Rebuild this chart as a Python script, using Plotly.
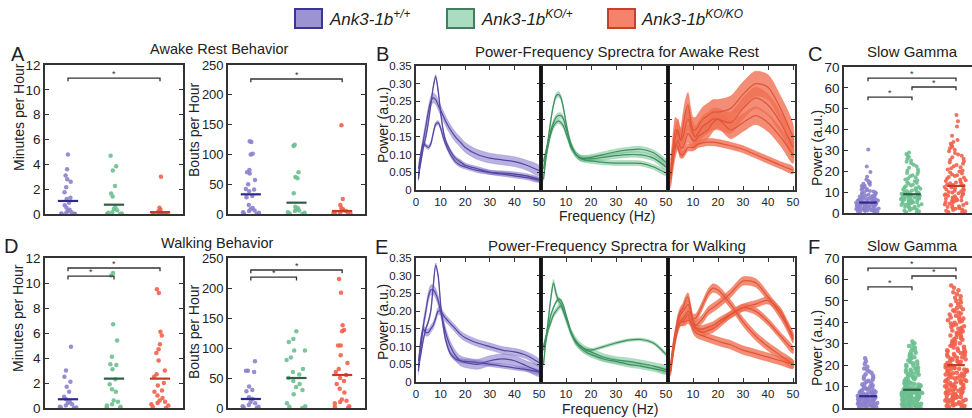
import plotly.graph_objects as go

W, H = 972, 418
FONT = "Liberation Sans, Arial, sans-serif"
TXT = "#222222"
AX = "#333333"

# ---------------- data ----------------
GENO_BASE = ["Ank3-1b", "Ank3-1b", "Ank3-1b"]
GENO_SUP = ["+/+", "KO/+", "KO/KO"]
GROUP_X = [1, 2, 3]

# A: awake rest behaviour
A_MIN = [
    [4.8, 3.6, 3.1, 2.8, 2.6, 2.15, 1.75, 1.3, 1.2, 0.9, 0.7, 0.5, 0.35, 0.25, 0.15, 0.1, 0.05, 0.02, 0.0, 0.0],
    [4.7, 3.85, 3.5, 2.25, 1.65, 1.4, 0.55, 0.4, 0.3, 0.15, 0.1, 0.05, 0.0, 0.0],
    [3.0, 0.5, 0.35, 0.25, 0.15, 0.1, 0.08, 0.05, 0.03, 0.02, 0.0, 0.0, 0.0],
]
A_MIN_LINE = [1.05, 0.75, 0.15]
A_BOUTS = [
    [122, 121, 101, 100, 74, 70, 68, 57, 50, 42, 41, 38, 30, 28, 15, 10, 8, 6, 5, 3, 2, 1, 0],
    [116, 114, 70, 62, 60, 35, 12, 10, 8, 6, 5, 3, 2, 1, 0],
    [149, 25, 15, 10, 8, 6, 5, 3, 2, 1, 0.5, 0],
]
A_BOUTS_LINE = [33, 19, 5]

# D: walking behaviour
D_MIN = [
    [4.9, 3.0, 2.5, 2.1, 1.7, 1.3, 0.9, 0.7, 0.5, 0.4, 0.3, 0.2, 0.1, 0.05, 0.0, 0.0],
    [10.8, 10.6, 6.7, 5.4, 4.1, 3.5, 3.45, 3.1, 2.3, 1.9, 1.5, 1.3, 0.6, 0.5, 0.3, 0.2, 0.1, 0.05, 0.0],
    [9.5, 9.2, 6.1, 5.8, 5.1, 4.7, 4.4, 3.8, 3.0, 2.7, 2.5, 2.0, 1.8, 1.4, 1.3, 1.0, 0.8, 0.6, 0.5, 0.4, 0.3, 0.2, 0.1, 0.0],
]
D_MIN_LINE = [0.7, 2.35, 2.35]
D_BOUTS = [
    [78, 62, 62, 60, 36, 30, 28, 18, 15, 10, 8, 5, 3, 2, 1, 0],
    [128, 115, 110, 96, 96, 84, 80, 65, 60, 56, 50, 45, 40, 35, 30, 23, 8, 3, 2, 0],
    [215, 192, 138, 130, 128, 104, 104, 88, 75, 65, 60, 55, 50, 45, 40, 32, 26, 14, 12, 10, 8, 3, 2, 0],
]
D_BOUTS_LINE = [15, 50, 55]

# C: slow gamma power, awake rest
C_POWER = [
    [30.5, 22.3, 19.6, 17.4, 16.1, 15.3, 14.8, 14.4, 14.0, 13.6, 13.1, 12.9, 12.5, 12.2, 11.8, 11.5, 11.2, 10.9,
     10.6, 10.3, 10.1, 9.8, 9.6, 9.3, 9.1, 8.9, 8.7, 8.4, 8.2, 8.0, 7.9, 7.7, 7.5, 7.3, 7.2, 7.0, 6.9, 6.7, 6.6,
     6.4, 6.3, 6.1, 6.0, 5.9, 5.8, 5.6, 5.5, 5.4, 5.3, 5.2, 5.1, 5.0, 4.9, 4.8, 4.7, 4.6, 4.5, 4.4, 4.3, 4.2,
     4.1, 4.0, 3.9, 3.8, 3.7, 3.6, 3.5, 3.4, 3.3, 3.2, 3.1, 3.0, 2.9, 2.8, 2.7, 2.6, 2.5, 2.4, 2.3, 2.2, 2.1,
     2.0, 1.9, 1.8, 1.7, 1.6, 1.5, 1.4, 1.3, 1.2, 1.1, 1.0, 0.9, 0.8, 0.7, 0.6],
    [29.0, 28.3, 27.5, 26.8, 25.9, 25.2, 24.6, 23.8, 23.1, 22.4, 21.7, 21.0, 20.4, 19.8, 19.2, 18.7, 18.1, 17.6,
     17.1, 16.6, 16.1, 15.7, 15.2, 14.8, 14.4, 14.0, 13.6, 13.2, 12.9, 12.5, 12.2, 11.9, 11.6, 11.3, 11.0, 10.8,
     10.5, 10.3, 10.0, 9.8, 9.6, 9.4, 9.2, 8.8, 8.6, 8.4, 8.2, 8.0, 7.8, 7.6, 7.4, 7.2, 7.0, 6.8, 6.6, 6.4, 6.2,
     6.0, 5.8, 5.6, 5.4, 5.2, 5.0, 4.8, 4.6, 4.4, 4.2, 4.0, 3.8, 3.5, 3.2, 2.9, 2.6, 2.3, 2.0, 1.7, 1.4, 1.1,
     0.8, 0.5, 0.3, 3.0, 4.5, 6.5, 7.5, 8.5],
    [47.0, 44.0, 41.5, 37.0, 35.0, 34.0, 33.2, 32.5, 31.8, 31.0, 30.3, 29.6, 28.8, 28.1, 27.4, 26.7, 26.0, 25.4,
     24.8, 24.2, 23.6, 23.0, 22.4, 21.9, 21.4, 20.9, 20.4, 19.9, 19.4, 18.9, 18.5, 18.1, 17.7, 17.3, 16.9, 16.5,
     16.1, 15.7, 15.3, 15.0, 14.6, 14.3, 14.0, 13.7, 13.4, 13.1, 12.8, 12.5, 12.2, 11.9, 11.6, 11.3, 11.0, 10.7,
     10.4, 10.1, 9.8, 9.5, 9.2, 8.9, 8.6, 8.3, 8.0, 7.7, 7.4, 7.1, 6.8, 6.5, 6.2, 5.9, 5.6, 5.3, 5.0, 4.7, 4.4,
     4.1, 3.8, 3.5, 3.2, 2.9, 2.6, 2.3, 2.0, 1.7, 1.4, 1.1, 0.8, 0.5, 0.3, 9.0, 6.0],
]
C_LINE = [5.0, 9.0, 13.0]

# F: slow gamma power, walking
F_POWER = [
    [23.2, 21.8, 20.5, 19.3, 18.4, 17.6, 17.0, 16.4, 15.8, 15.2, 14.7, 14.2, 13.7, 13.2, 12.7, 12.2, 11.8, 11.4,
     11.0, 10.6, 10.2, 9.9, 9.6, 9.3, 9.0, 8.7, 8.4, 8.1, 7.9, 7.7, 7.5, 7.3, 7.1, 6.9, 6.7, 6.5, 6.35, 6.2, 6.05,
     5.9, 5.75, 5.6, 5.45, 5.3, 5.15, 5.0, 4.85, 4.7, 4.55, 4.4, 4.25, 4.1, 3.95, 3.8, 3.65, 3.5, 3.35, 3.2,
     3.05, 2.9, 2.75, 2.6, 2.45, 2.3, 2.15, 2.0, 1.85, 1.7, 1.55, 1.4, 1.25, 1.1, 0.95, 0.8, 0.65, 0.5, 0.35,
     0.2, 4.0, 3.0, 2.5, 4.8, 5.2, 1.0],
    [31.0, 30.2, 29.5, 28.9, 28.2, 27.6, 27.0, 26.4, 25.8, 25.2, 24.7, 24.2, 23.7, 23.2, 22.7, 22.2, 21.7, 21.3,
     20.9, 20.5, 20.1, 19.7, 19.3, 18.9, 18.5, 18.2, 17.9, 17.6, 17.3, 17.0, 16.7, 16.4, 16.1, 15.8, 15.5, 15.2,
     14.9, 14.6, 14.3, 14.0, 13.7, 13.4, 13.1, 12.8, 12.5, 12.2, 12.0, 11.8, 11.6, 11.4, 11.2, 11.0, 10.8, 10.6,
     10.4, 10.2, 10.0, 9.8, 9.6, 9.4, 9.2, 9.0, 8.8, 8.6, 8.4, 8.25, 8.1, 7.95, 7.8, 7.65, 7.5, 7.35, 7.2, 7.05,
     6.9, 6.75, 6.6, 6.45, 6.3, 6.15, 6.0, 5.85, 5.7, 5.55, 5.4, 5.25, 5.1, 4.95, 4.8, 4.65, 4.5, 4.35, 4.2,
     4.05, 3.9, 3.75, 3.6, 3.45, 3.3, 3.15, 3.0, 2.85, 2.7, 2.55, 2.4, 2.25, 2.1, 1.95, 1.8, 1.65, 1.5, 1.35,
     1.2, 1.05, 0.9, 0.75, 0.6, 0.45, 0.3, 0.15, 2.0, 3.2, 4.4, 5.6, 6.8, 7.6, 1.0, 0.5],
    [57.2, 56.1, 55.0, 54.0, 53.1, 52.2, 51.4, 50.6, 49.9, 49.2, 48.5, 47.9, 47.3, 46.7, 46.1, 45.6, 45.1, 44.6,
     44.1, 43.6, 43.1, 42.6, 42.2, 41.8, 41.4, 41.0, 40.6, 40.2, 39.8, 39.4, 39.0, 38.6, 38.2, 37.8, 37.4, 37.0,
     36.6, 36.2, 35.8, 35.4, 35.0, 34.6, 34.2, 33.8, 33.4, 33.0, 32.6, 32.2, 31.8, 31.4, 31.0, 30.6, 30.2, 29.8,
     29.4, 29.0, 28.6, 28.2, 27.8, 27.4, 27.0, 26.7, 26.4, 26.1, 25.8, 25.5, 25.2, 24.9, 24.6, 24.3, 24.0, 23.7,
     23.4, 23.1, 22.8, 22.5, 22.2, 21.9, 21.6, 21.3, 21.0, 20.7, 20.4, 20.1, 19.8, 19.5, 19.2, 18.9, 18.6, 18.3,
     18.0, 17.7, 17.4, 17.1, 16.8, 16.5, 16.2, 15.9, 15.6, 15.3, 15.0, 14.7, 14.4, 14.1, 13.8, 13.5, 13.2, 12.9,
     12.6, 12.3, 12.0, 11.7, 11.4, 11.1, 10.8, 10.5, 10.2, 9.9, 9.6, 9.3, 9.0, 8.7, 8.4, 8.1, 7.8, 7.5, 7.2, 6.9,
     6.6, 6.3, 6.0, 5.7, 5.4, 5.1, 4.8, 4.5, 4.2, 3.9, 3.6, 3.3, 3.0, 2.7, 2.4, 2.1, 1.8, 1.5, 1.2, 0.9, 0.6,
     0.3, 19.0, 17.0, 15.0, 13.0, 11.0, 9.5, 8.0, 6.5, 5.0, 3.5, 2.0, 1.0, 16.0, 12.5, 10.0, 7.0, 4.0, 18.0],
]
F_LINE = [5.5, 8.5, 20.0]

# significance brackets: (group a, group b, height)
SIG_A_MIN = [(1, 3, 10.95)]
SIG_A_BOUTS = [(1, 3, 226.5)]
SIG_C = [(1, 2, 55.6), (2, 3, 60.4), (1, 3, 64.7)]
SIG_D_MIN = [(1, 2, 10.55), (1, 3, 11.2)]
SIG_D_BOUTS = [(1, 2, 218), (1, 3, 230)]
SIG_F = [(1, 2, 56.5), (2, 3, 61.6), (1, 3, 65.3)]

# power spectra (frequency grid in Hz)
FREQ = [1, 2, 3, 4, 5, 6, 7, 8, 9, 10, 11, 12, 14, 16, 18, 20, 25, 30, 35, 40, 45, 50]

REST_WT = [
    [0.06, 0.10, 0.14, 0.18, 0.22, 0.25, 0.26, 0.255, 0.24, 0.225, 0.21, 0.195, 0.17, 0.15, 0.135, 0.12, 0.10, 0.09, 0.085, 0.08, 0.07, 0.055],
    [0.04, 0.08, 0.12, 0.15, 0.19, 0.24, 0.29, 0.32, 0.28, 0.22, 0.17, 0.14, 0.11, 0.09, 0.08, 0.07, 0.06, 0.05, 0.045, 0.04, 0.035, 0.028],
    [0.03, 0.10, 0.13, 0.125, 0.12, 0.13, 0.16, 0.185, 0.19, 0.175, 0.15, 0.13, 0.10, 0.08, 0.07, 0.065, 0.055, 0.05, 0.048, 0.045, 0.04, 0.03],
]
REST_WT_SEM = [0.014, 0.006, 0.006]
REST_HET = [
    [0.06, 0.10, 0.15, 0.20, 0.24, 0.265, 0.27, 0.26, 0.23, 0.19, 0.155, 0.13, 0.10, 0.09, 0.09, 0.092, 0.10, 0.108, 0.113, 0.115, 0.105, 0.078],
    [0.08, 0.11, 0.14, 0.17, 0.19, 0.205, 0.21, 0.21, 0.20, 0.175, 0.15, 0.125, 0.10, 0.09, 0.088, 0.088, 0.092, 0.097, 0.10, 0.099, 0.09, 0.065],
    [0.03, 0.09, 0.13, 0.16, 0.18, 0.19, 0.195, 0.19, 0.18, 0.16, 0.14, 0.12, 0.10, 0.088, 0.084, 0.082, 0.078, 0.076, 0.076, 0.075, 0.065, 0.048],
]
REST_HET_SEM = [0.008, 0.008, 0.007]
REST_KO = [
    [0.05, 0.12, 0.17, 0.16, 0.14, 0.18, 0.22, 0.24, 0.20, 0.17, 0.17, 0.18, 0.20, 0.21, 0.22, 0.22, 0.23, 0.27, 0.30, 0.29, 0.23, 0.15],
    [0.04, 0.10, 0.15, 0.17, 0.14, 0.15, 0.18, 0.20, 0.18, 0.16, 0.15, 0.16, 0.18, 0.19, 0.20, 0.20, 0.19, 0.23, 0.26, 0.24, 0.19, 0.12],
    [0.03, 0.08, 0.12, 0.14, 0.12, 0.12, 0.14, 0.16, 0.15, 0.14, 0.14, 0.15, 0.16, 0.17, 0.19, 0.20, 0.17, 0.19, 0.21, 0.19, 0.15, 0.10],
    [0.04, 0.09, 0.13, 0.12, 0.10, 0.10, 0.11, 0.12, 0.12, 0.12, 0.125, 0.13, 0.133, 0.135, 0.135, 0.133, 0.125, 0.115, 0.10, 0.085, 0.07, 0.056],
]
REST_KO_SEM = [0.035, 0.03, 0.025, 0.01]

WALK_WT = [
    [0.04, 0.08, 0.12, 0.15, 0.17, 0.20, 0.27, 0.33, 0.30, 0.22, 0.16, 0.12, 0.08, 0.065, 0.06, 0.058, 0.055, 0.05, 0.045, 0.04, 0.035, 0.028],
    [0.06, 0.10, 0.16, 0.20, 0.24, 0.26, 0.26, 0.25, 0.23, 0.20, 0.17, 0.14, 0.10, 0.075, 0.06, 0.055, 0.05, 0.06, 0.065, 0.06, 0.045, 0.03],
    [0.03, 0.12, 0.15, 0.14, 0.14, 0.15, 0.16, 0.18, 0.20, 0.20, 0.19, 0.18, 0.165, 0.15, 0.135, 0.125, 0.11, 0.10, 0.09, 0.085, 0.075, 0.055],
]
WALK_WT_SEM = [0.006, 0.014, 0.01]
WALK_HET = [
    [0.05, 0.12, 0.18, 0.24, 0.28, 0.25, 0.23, 0.22, 0.20, 0.18, 0.16, 0.14, 0.115, 0.10, 0.09, 0.085, 0.07, 0.062, 0.058, 0.052, 0.045, 0.035],
    [0.10, 0.13, 0.16, 0.19, 0.21, 0.225, 0.235, 0.23, 0.215, 0.19, 0.165, 0.14, 0.115, 0.10, 0.092, 0.09, 0.10, 0.11, 0.118, 0.12, 0.11, 0.078],
    [0.09, 0.12, 0.15, 0.17, 0.19, 0.20, 0.21, 0.215, 0.20, 0.18, 0.16, 0.14, 0.11, 0.095, 0.085, 0.078, 0.065, 0.058, 0.05, 0.045, 0.038, 0.03],
]
WALK_HET_SEM = [0.01, 0.004, 0.008]
WALK_KO = [
    [0.03, 0.08, 0.13, 0.17, 0.19, 0.20, 0.21, 0.22, 0.20, 0.17, 0.16, 0.165, 0.18, 0.20, 0.21, 0.22, 0.25, 0.285, 0.28, 0.24, 0.19, 0.13],
    [0.03, 0.09, 0.14, 0.18, 0.20, 0.21, 0.23, 0.24, 0.21, 0.18, 0.18, 0.19, 0.22, 0.25, 0.265, 0.26, 0.22, 0.17, 0.13, 0.10, 0.075, 0.05],
    [0.03, 0.08, 0.12, 0.15, 0.17, 0.18, 0.19, 0.20, 0.19, 0.17, 0.155, 0.15, 0.15, 0.155, 0.16, 0.17, 0.19, 0.21, 0.22, 0.23, 0.20, 0.12],
    [0.04, 0.09, 0.13, 0.16, 0.17, 0.17, 0.17, 0.175, 0.17, 0.16, 0.15, 0.145, 0.14, 0.145, 0.15, 0.16, 0.19, 0.21, 0.20, 0.17, 0.13, 0.09],
    [0.04, 0.10, 0.14, 0.16, 0.17, 0.17, 0.18, 0.19, 0.17, 0.15, 0.14, 0.135, 0.13, 0.125, 0.12, 0.115, 0.105, 0.09, 0.08, 0.07, 0.06, 0.05],
]
WALK_KO_SEM = [0.012, 0.012, 0.01, 0.01, 0.012]

SPEC_YTICKS = [0, 0.05, 0.10, 0.15, 0.20, 0.25, 0.30, 0.35]
SPEC_YTEXT = ["0", "0.05", "0.10", "0.15", "0.20", "0.25", "0.30", "0.35"]
SPEC_XTICKS_FIRST = [0, 10, 20, 30, 40, 50]
SPEC_XTICKS_OTHER = [10, 20, 30, 40, 50]

# ---------------- styles ----------------
PT_COL = ["#8c82cc", "#6cc08f", "#f2604a"]
MED_COL = ["#2b2a8a", "#2e5e46", "#c23b22"]
SPEC_LINE = ["#54479f", "#3f8f60", "#e0553a"]
SPEC_BAND = ["rgba(128,113,200,0.55)", "rgba(105,188,138,0.5)", "rgba(240,112,82,0.8)"]
LEG_FILL = ["#9c94d2", "#a9dcc0", "#f4836b"]
LEG_EDGE = ["#3c3593", "#3f7f5b", "#c8402b"]

fig = go.Figure()
layout_axes = {}


def refs(i):
    return ("x" if i == 1 else f"x{i}", "y" if i == 1 else f"y{i}")


def set_axes(i, box, xcfg, ycfg, tick_size):
    x0, x1, yt, yb = box
    xn, yn = refs(i)
    base = dict(showline=True, linecolor=AX, linewidth=1.6, showgrid=False, zeroline=False,
                ticks="inside", ticklen=4, tickcolor=AX, tickwidth=1.2,
                tickfont=dict(size=tick_size, color=TXT, family=FONT), fixedrange=True)
    layout_axes["xaxis" if i == 1 else f"xaxis{i}"] = {**base, "domain": [x0 / W, min(x1 / W, 1)], "anchor": yn, **xcfg}
    layout_axes["yaxis" if i == 1 else f"yaxis{i}"] = {**base, "domain": [1 - yb / H, 1 - yt / H], "anchor": xn, **ycfg}


def strip_panel(i, box, groups, lines, yrange, ytick, sig, width, msize, xrange, mirror_y="ticks", hw=0.22, tsize=13.5):
    xn, yn = refs(i)
    set_axes(i, box,
             dict(range=xrange, showticklabels=False, ticks="", mirror=True),
             dict(range=yrange, tickmode="linear", tick0=0, dtick=ytick, mirror=mirror_y),
             tsize)
    for g, (vals, med) in enumerate(zip(groups, lines)):
        gx = GROUP_X[g]
        fig.add_trace(go.Box(y=vals, x0=gx, width=width, boxpoints="all", jitter=1, pointpos=0,
                             fillcolor="rgba(0,0,0,0)", line=dict(width=0, color="rgba(0,0,0,0)"),
                             whiskerwidth=0,
                             marker=dict(color=PT_COL[g], size=msize, opacity=0.9, line=dict(width=0)),
                             xaxis=xn, yaxis=yn, hoverinfo="skip", showlegend=False))
        fig.add_trace(go.Scatter(x=[gx - hw, gx + hw], y=[med, med], mode="lines",
                                 line=dict(color=MED_COL[g], width=2.2),
                                 xaxis=xn, yaxis=yn, hoverinfo="skip", showlegend=False))
    d = 0.022 * (yrange[1] - yrange[0])
    for a, b, hgt in sig:
        fig.add_trace(go.Scatter(x=[a, a, b, b], y=[hgt - d, hgt, hgt, hgt - d], mode="lines",
                                 line=dict(color="#333333", width=1.3),
                                 xaxis=xn, yaxis=yn, hoverinfo="skip", showlegend=False))
        fig.add_annotation(x=(a + b) / 2, y=hgt, xref=xn, yref=yn, text="*", showarrow=False,
                           yanchor="bottom", yshift=-3, font=dict(size=9, color="#333333", family=FONT))


def spectra_panel(i, box, curves, sems, g, first):
    xn, yn = refs(i)
    xt = SPEC_XTICKS_FIRST if first else SPEC_XTICKS_OTHER
    set_axes(i, box,
             dict(range=[0, 50.8], tickvals=xt, ticktext=[str(v) for v in xt], mirror="ticks", linewidth=2),
             dict(range=[0, 0.35], tickvals=SPEC_YTICKS, ticktext=SPEC_YTEXT, showticklabels=first,
                  mirror="ticks", linewidth=2),
             11.5)
    for v, s in zip(curves, sems):
        up = [a + s for a in v]
        lo = [a - s for a in v]
        fig.add_trace(go.Scatter(x=FREQ + FREQ[::-1], y=up + lo[::-1], fill="toself",
                                 fillcolor=SPEC_BAND[g], mode="lines",
                                 line=dict(width=0.6, color=SPEC_BAND[g], shape="spline", smoothing=0.8),
                                 xaxis=xn, yaxis=yn, hoverinfo="skip", showlegend=False))
    for v in curves:
        fig.add_trace(go.Scatter(x=FREQ, y=v, mode="lines",
                                 line=dict(width=1.2, color=SPEC_LINE[g], shape="spline", smoothing=0.8),
                                 xaxis=xn, yaxis=yn, hoverinfo="skip", showlegend=False))


# ---------------- panels ----------------
strip_panel(1, (45, 183, 65, 214), A_MIN, A_MIN_LINE, [0, 12], 2, SIG_A_MIN, 0.5, 4.5, [0.5, 3.5])
strip_panel(2, (228, 365, 65, 214), A_BOUTS, A_BOUTS_LINE, [0, 250], 50, SIG_A_BOUTS, 0.5, 4.5, [0.5, 3.5], tsize=13)
spectra_panel(3, (416, 541, 66, 190), REST_WT, REST_WT_SEM, 0, True)
spectra_panel(4, (541, 668, 66, 190), REST_HET, REST_HET_SEM, 1, False)
spectra_panel(5, (668, 795, 66, 190), REST_KO, REST_KO_SEM, 2, False)
strip_panel(6, (844, 972, 67, 213), C_POWER, C_LINE, [0, 70], 10, SIG_C, 0.55, 4, [0.455, 3.364], mirror_y=False, hw=0.2)
strip_panel(7, (45, 183, 258, 408), D_MIN, D_MIN_LINE, [0, 12], 2, SIG_D_MIN, 0.5, 4.5, [0.5, 3.5])
strip_panel(8, (228, 365, 258, 408), D_BOUTS, D_BOUTS_LINE, [0, 250], 50, SIG_D_BOUTS, 0.5, 4.5, [0.5, 3.5], tsize=13)
spectra_panel(9, (416, 541, 258, 382), WALK_WT, WALK_WT_SEM, 0, True)
spectra_panel(10, (541, 668, 258, 382), WALK_HET, WALK_HET_SEM, 1, False)
spectra_panel(11, (668, 795, 258, 382), WALK_KO, WALK_KO_SEM, 2, False)
strip_panel(12, (844, 972, 258, 408), F_POWER, F_LINE, [0, 70], 10, SIG_F, 0.5, 4.5, [0.455, 3.364], mirror_y=False, hw=0.2)

# ---------------- text ----------------
def ann(x, y, text, size, angle=0, xanchor="center"):
    fig.add_annotation(x=x / W, y=1 - y / H, xref="paper", yref="paper", text=text, showarrow=False,
                       textangle=angle, xanchor=xanchor, yanchor="middle",
                       font=dict(size=size, color=TXT, family=FONT))

ann(219, 49, "Awake Rest Behavior", 14.5)
ann(617, 51, "Power-Frequency Sprectra for Awake Rest", 15)
ann(912, 51, "Slow Gamma", 15)
ann(217, 243, "Walking Behavior", 14.5)
ann(617, 245, "Power-Frequency Sprectra for Walking", 15)
ann(912, 245, "Slow Gamma", 15)
for lx, ly, letter in [(18, 54, "A"), (382, 54, "B"), (815, 54, "C"), (11, 246, "D"), (381, 247, "E"), (814, 247, "F")]:
    ann(lx, ly, letter, 20)
ann(19, 117, "Minutes per Hour", 14, -90)
ann(194, 130, "Bouts per Hour", 14, -90)
ann(383, 125, "Power (a.u.)", 14, -90)
ann(817, 148, "Power (a.u.)", 14, -90)
ann(18, 318, "Minutes per Hour", 14, -90)
ann(194, 332, "Bouts per Hour", 14, -90)
ann(383, 322, "Power (a.u.)", 14, -90)
ann(817, 348, "Power (a.u.)", 14, -90)
ann(607, 216, "Frequency (Hz)", 14)
ann(610, 409, "Frequency (Hz)", 14)

# legend
shapes = []
for k, (bx, tx) in enumerate([(295, 327), (447, 479), (608, 639)]):
    shapes.append(dict(type="rect", xref="paper", yref="paper", x0=bx / W, x1=(bx + 27) / W,
                       y0=1 - 28 / H, y1=1 - 9 / H, fillcolor=LEG_FILL[k],
                       line=dict(color=LEG_EDGE[k], width=2)))
    ann(tx, 18, f"<i>{GENO_BASE[k]}</i><sup><i>{GENO_SUP[k]}</i></sup>", 17, xanchor="left")

# thick dividers between spectra panels
for dx in (541, 668):
    for y0, y1 in ((66, 190), (258, 382)):
        shapes.append(dict(type="line", xref="paper", yref="paper", x0=dx / W, x1=dx / W,
                           y0=1 - y1 / H, y1=1 - y0 / H, line=dict(color="#111111", width=3)))

fig.update_layout(width=W, height=H, margin=dict(l=0, r=0, t=0, b=0, autoexpand=False),
                  paper_bgcolor="white", plot_bgcolor="white", showlegend=False,
                  font=dict(family=FONT, color=TXT), shapes=shapes, boxmode="overlay",
                  **layout_axes)

fig.write_html("out.html", config={"displayModeBar": False},
               post_script="document.body.style.margin='0';document.body.style.overflow='hidden';")
